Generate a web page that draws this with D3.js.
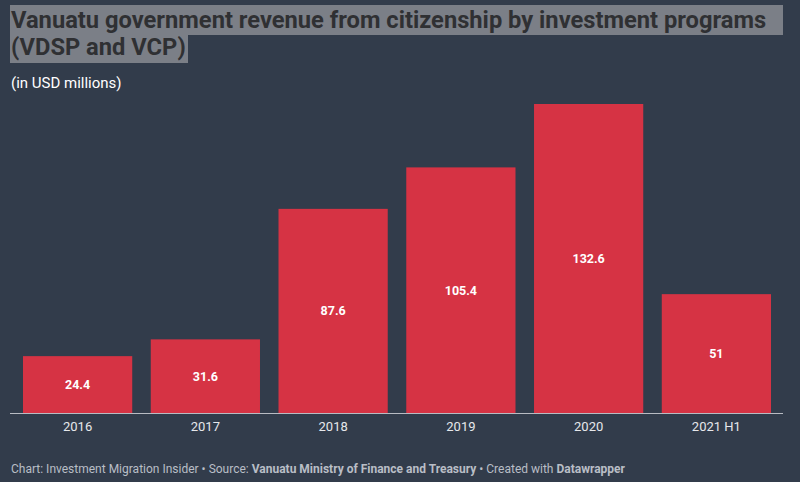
<!DOCTYPE html>
<html><head><meta charset="utf-8">
<script src="https://cdn.jsdelivr.net/npm/d3@7"></script>
<style>
html,body{margin:0;padding:0;background:#323c4b;}
svg{display:block;font-family:Roboto,"Noto Sans",sans-serif;}
</style></head>
<body>
<svg id="c" width="800" height="482"></svg>
<script>
const categories = ["2016","2017","2018","2019","2020","2021 H1"];
const values = [24.4, 31.6, 87.6, 105.4, 132.6, 51];
const valueLabels = ["24.4","31.6","87.6","105.4","132.6","51"];
const titleLines = ["Vanuatu government revenue from citizenship by investment programs","(VDSP and VCP)"];
const subtitle = "(in USD millions)";

const svg = d3.select("#c");
svg.append("rect").attr("width",800).attr("height",482).attr("fill","#323c4b");

// title highlight
const hl = [[10,5,783,35],[10,35,188,63]];
hl.forEach(h=>svg.append("rect").attr("x",h[0]).attr("y",h[1]).attr("width",h[2]-h[0]).attr("height",h[3]-h[1]).attr("fill","#7b7f87"));
titleLines.forEach((t,i)=>{
  svg.append("text").attr("x",11).attr("y",28+i*27).text(t)
    .attr("font-size",23.7).attr("font-weight",700).attr("fill","#2f3033");
});
svg.append("text").attr("x",11).attr("y",88).text(subtitle)
  .attr("font-size",15).attr("fill","#ffffff");

const x = d3.scaleBand().domain(categories).range([23,771]).paddingInner(0.145).paddingOuter(0);
const y = d3.scaleLinear().domain([0,132.6]).range([413,104]);

svg.append("g").selectAll("rect").data(values).join("rect")
  .attr("x",(d,i)=>x(categories[i])).attr("width",x.bandwidth())
  .attr("y",d=>y(d)).attr("height",d=>y(0)-y(d)).attr("fill","#d63344");

svg.append("g").selectAll("text").data(values).join("text")
  .attr("x",(d,i)=>x(categories[i])+x.bandwidth()/2)
  .attr("y",d=>(y(d)+y(0))/2).attr("dy","0.35em")
  .attr("text-anchor","middle").attr("font-size",12.5).attr("font-weight",700)
  .attr("fill","#ffffff").text((d,i)=>valueLabels[i]);

// baseline
svg.append("line").attr("x1",10).attr("x2",783).attr("y1",413.5).attr("y2",413.5)
  .attr("stroke","#b8bcc3").attr("stroke-width",1);

const xAxis = d3.axisBottom(x).tickSize(0).tickPadding(8);
const gx = svg.append("g").attr("transform","translate(0,414)").call(xAxis);
gx.select(".domain").remove();
gx.selectAll("text").attr("font-size",13).attr("font-family","Roboto,sans-serif")
  .attr("fill","#e6e8eb");

const foot = svg.append("text").attr("x",11).attr("y",473).attr("font-size",12).attr("fill","#b9bec6");
foot.append("tspan").text("Chart: Investment Migration Insider • Source: ");
foot.append("tspan").attr("font-weight",700).text("Vanuatu Ministry of Finance and Treasury");
foot.append("tspan").text(" • Created with ");
foot.append("tspan").attr("font-weight",700).text("Datawrapper");
</script>
</body></html>
